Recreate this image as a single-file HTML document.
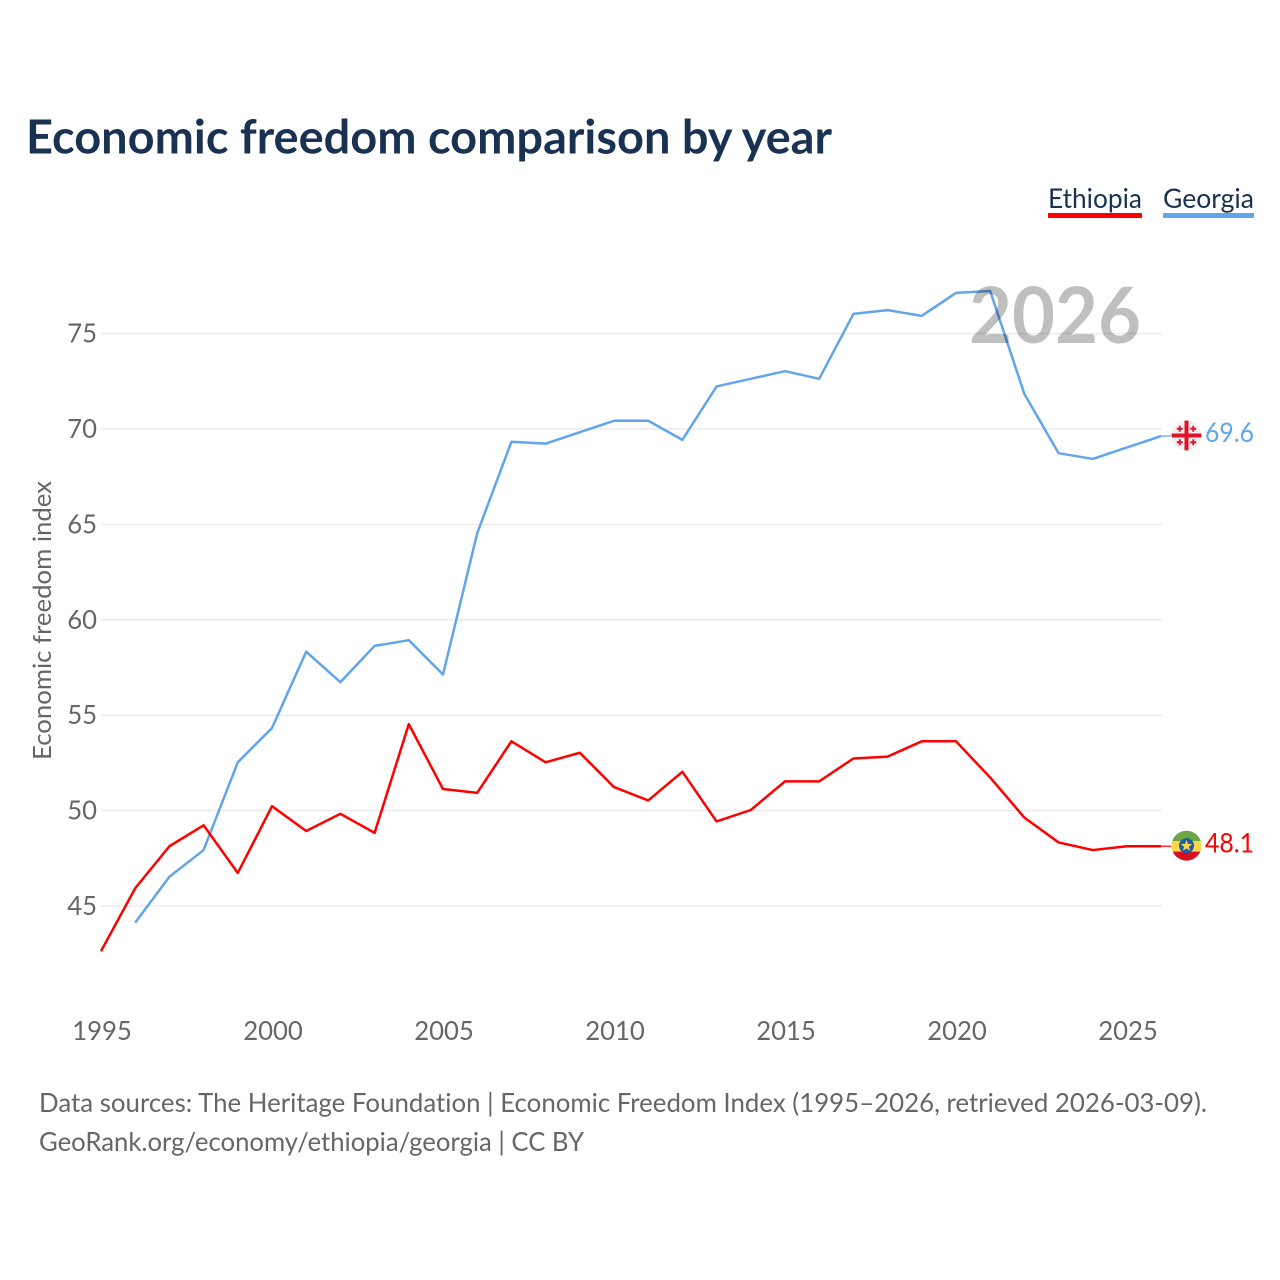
<!DOCTYPE html>
<html lang="en">
<head>
<meta charset="utf-8">
<title>Economic freedom comparison by year</title>
<style>
html,body{margin:0;padding:0;background:#fff;width:1280px;height:1280px;overflow:hidden}
svg{display:block}
text{font-family:"Lato","Carlito","Liberation Sans",sans-serif;font-variant-ligatures:none}
</style>
</head>
<body>
<svg id="chart" xmlns="http://www.w3.org/2000/svg" width="1280" height="1280" viewBox="0 0 1280 1280">
  <defs>
    <clipPath id="flag-clip-ge"><circle cx="1186.5" cy="435.5" r="15"/></clipPath>
    <clipPath id="flag-clip-et"><circle cx="1186.5" cy="845.7" r="15"/></clipPath>
  </defs>
  <text x="26" y="153.5" font-size="47" font-weight="700" fill="#1a3252" textLength="806" lengthAdjust="spacingAndGlyphs">Economic freedom comparison by year</text>

  <g>
    <g>
      <text x="1048" y="208" font-size="27" fill="#1a3252" textLength="94" lengthAdjust="spacingAndGlyphs">Ethiopia</text>
      <rect x="1048" y="213" width="94" height="5" fill="#ff0000"/>
    </g>
    <g>
      <text x="1163" y="208" font-size="27" fill="#1a3252" textLength="91" lengthAdjust="spacingAndGlyphs">Georgia</text>
      <rect x="1163" y="213" width="91" height="5" fill="#62a5ea"/>
    </g>
  </g>

  <g id="grid"></g>
  <g id="y-ticks"></g>
  <g id="x-ticks"></g>

  <text transform="translate(51 760) rotate(-90)" x="0" y="0" font-size="25.5" fill="#666666" textLength="279" lengthAdjust="spacingAndGlyphs">Economic freedom index</text>

  <g id="series" transform="translate(-1 -0.6)"></g>

  <text x="969" y="343" font-size="78" font-weight="700" fill="#000000" fill-opacity="0.25" textLength="172" lengthAdjust="spacingAndGlyphs">2026</text>

  <g>
    <g clip-path="url(#flag-clip-ge)">
      <rect x="1171" y="420" width="31" height="31" fill="#f0f0f0"/>
      <rect x="1171" y="433.5" width="31" height="4" fill="#e0112b"/>
      <rect x="1184.5" y="420" width="4" height="31" fill="#e0112b"/>
      <path d="M1178.8 425.8h1.9v2h2v1.9h-2v2h-1.9v-2h-2v-1.9h2zM1192.3 425.8h1.9v2h2v1.9h-2v2h-1.9v-2h-2v-1.9h2zM1178.8 439.3h1.9v2h2v1.9h-2v2h-1.9v-2h-2v-1.9h2zM1192.3 439.3h1.9v2h2v1.9h-2v2h-1.9v-2h-2v-1.9h2z" fill="#e0112b"/>
    </g>
  </g>
  <g>
    <g clip-path="url(#flag-clip-et)">
      <rect x="1171" y="830" width="31" height="11" fill="#6ea544"/>
      <rect x="1171" y="841" width="31" height="10.6" fill="#f7d84a"/>
      <rect x="1171" y="851.6" width="31" height="11" fill="#d7101f"/>
      <circle cx="1186.5" cy="845.7" r="7.5" fill="#1e5aa8"/>
      <path d="M1186.5 839.7l1.5 4.2 4.3.1-3.4 2.7 1.2 4.2-3.6-2.5-3.6 2.5 1.2-4.2-3.4-2.7 4.3-.1z" fill="#f7d84a"/>
    </g>
  </g>
  <g id="end-labels"></g>

  <g>
    <text x="39" y="1112" font-size="26" fill="#666666" textLength="1168" lengthAdjust="spacingAndGlyphs">Data sources: The Heritage Foundation | Economic Freedom Index (1995–2026, retrieved 2026-03-09).</text>
    <text x="39" y="1151" font-size="26" fill="#666666" textLength="545" lengthAdjust="spacingAndGlyphs">GeoRank.org/economy/ethiopia/georgia | CC BY</text>
  </g>
</svg>
<script>
const years = [1995,1996,1997,1998,1999,2000,2001,2002,2003,2004,2005,2006,2007,2008,2009,2010,2011,2012,2013,2014,2015,2016,2017,2018,2019,2020,2021,2022,2023,2024,2025,2026];
const ethiopiaValues = [42.6,45.9,48.1,49.2,46.7,50.2,48.9,49.8,48.8,54.5,51.1,50.9,53.6,52.5,53.0,51.2,50.5,52.0,49.4,50.0,51.5,51.5,52.7,52.8,53.6,53.6,51.7,49.6,48.3,47.9,48.1,48.1];
const georgiaValues = [null,44.1,46.5,47.9,52.5,54.3,58.3,56.7,58.6,58.9,57.1,64.5,69.3,69.2,69.8,70.4,70.4,69.4,72.2,72.6,73.0,72.6,76.0,76.2,75.9,77.1,77.2,71.8,68.7,68.4,69.0,69.6];
const yTickValues = [45,50,55,60,65,70,75];
const xTickValues = [1995,2000,2005,2010,2015,2020,2025];

const NS = 'http://www.w3.org/2000/svg';
function xScale(year){ return 102 + (year - 1995) * 34.2; }
function yScale(v){ return 906 - (v - 45) * 19.08; }
function make(tag, attrs, text){
  const el = document.createElementNS(NS, tag);
  for (const k in attrs) el.setAttribute(k, attrs[k]);
  if (text !== undefined) el.textContent = text;
  return el;
}
const grid = document.getElementById('grid');
const yTicks = document.getElementById('y-ticks');
const xTicks = document.getElementById('x-ticks');
const seriesGroup = document.getElementById('series');
const endLabels = document.getElementById('end-labels');

yTickValues.forEach(function(v){
  const line = make('line', {x1:101, x2:1162, y1:yScale(v), y2:yScale(v), stroke:'#ebebeb', 'stroke-width':1.5});
  
  
  grid.appendChild(line);
  const label = make('text', {x:97, y:yScale(v)+9, 'text-anchor':'end', 'font-size':25.7, fill:'#666666'}, String(v));
  
  
  yTicks.appendChild(label);
});
xTickValues.forEach(function(y){
  const label = make('text', {x:xScale(y), y:1040, 'text-anchor':'middle', 'font-size':25.7, fill:'#666666'}, String(y));
  
  
  xTicks.appendChild(label);
});
function pathFor(values){
  let d = '';
  values.forEach(function(v, i){
    if (v === null) return;
    d += (d ? 'L' : 'M') + xScale(years[i]).toFixed(2) + ' ' + yScale(v).toFixed(2);
  });
  return d;
}
function lastOf(values){ return values[values.length - 1]; }
function drawEnd(values, color){
  const v = lastOf(values);
  const connector = make('line', {x1:xScale(2026), x2:1172, y1:yScale(v), y2:yScale(v), stroke:color, 'stroke-width':1.2});
  
  
  seriesGroup.appendChild(connector);
  const label = make('text', {x:1205, y:yScale(v)+5.5, 'font-size':27, fill:color, textLength:49, lengthAdjust:'spacingAndGlyphs'}, v.toFixed(1));
  
  
  endLabels.appendChild(label);
}
const georgiaLine = make('path', {d:pathFor(georgiaValues), fill:'none', stroke:'#62a5ea', 'stroke-width':2.5, 'stroke-linejoin':'round'});


seriesGroup.appendChild(georgiaLine);
const ethiopiaLine = make('path', {d:pathFor(ethiopiaValues), fill:'none', stroke:'#ff0000', 'stroke-width':2.5, 'stroke-linejoin':'round'});


seriesGroup.appendChild(ethiopiaLine);
drawEnd(georgiaValues, '#62a5ea');
drawEnd(ethiopiaValues, '#ff0000');
</script>
</body>
</html>
